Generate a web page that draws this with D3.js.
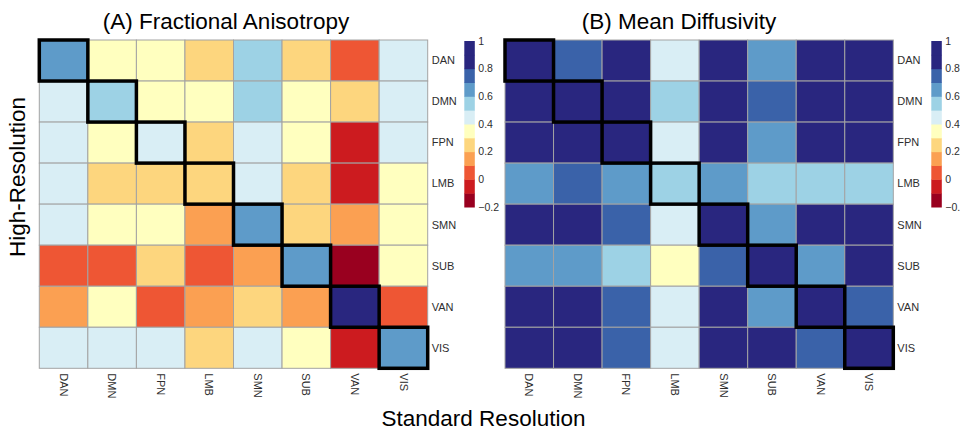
<!DOCTYPE html>
<html lang="en">
<head>
  <meta charset="UTF-8">
  <title>FA / MD network reliability</title>
  <style>
    body {
      margin: 0;
      background: #fff;
      font-family: "Liberation Sans", Arial, sans-serif;
    }
    .cell {
      stroke: #a3a3a3;
      stroke-width: 1px;
    }
    .diag {
      fill: none;
      stroke: #000;
      stroke-width: 3.5px;
    }
    .lab {
      font-size: 11px;
      fill: #2e2e2e;
    }
    .cb-lab {
      font-size: 10.5px;
      fill: #2e2e2e;
    }
    .title {
      font-size: 22.5px;
      fill: #000;
    }
  </style>
</head>
<body>
  <svg></svg>

  <script src="https://d3js.org/d3.v7.min.js"></script>
  <script>
    const width = 960, height = 431;

    const networks = ["DAN", "DMN", "FPN", "LMB", "SMN", "SUB", "VAN", "VIS"];

    // rows = high-resolution, columns = standard resolution
    const faValues = [
      [0.66, 0.36, 0.34, 0.27, 0.57, 0.26, 0.06, 0.44],
      [0.43, 0.58, 0.35, 0.33, 0.56, 0.37, 0.24, 0.45],
      [0.42, 0.34, 0.46, 0.25, 0.43, 0.36, -0.05, 0.44],
      [0.42, 0.27, 0.26, 0.28, 0.44, 0.25, -0.04, 0.33],
      [0.45, 0.36, 0.33, 0.15, 0.67, 0.24, 0.14, 0.35],
      [0.05, 0.04, 0.23, 0.06, 0.16, 0.64, -0.14, 0.36],
      [0.17, 0.34, 0.03, 0.13, 0.26, 0.16, 0.92, 0.07],
      [0.44, 0.42, 0.43, 0.24, 0.45, 0.37, -0.06, 0.63]
    ];

    const mdValues = [
      [0.94, 0.76, 0.88, 0.46, 0.91, 0.64, 0.93, 0.90],
      [0.92, 0.95, 0.90, 0.56, 0.89, 0.74, 0.87, 0.91],
      [0.91, 0.89, 0.96, 0.47, 0.90, 0.65, 0.92, 0.88],
      [0.63, 0.73, 0.66, 0.57, 0.64, 0.54, 0.55, 0.56],
      [0.90, 0.88, 0.74, 0.45, 0.97, 0.66, 0.89, 0.91],
      [0.65, 0.64, 0.55, 0.36, 0.76, 0.93, 0.63, 0.86],
      [0.89, 0.91, 0.75, 0.46, 0.90, 0.65, 0.95, 0.77],
      [0.90, 0.87, 0.73, 0.44, 0.92, 0.88, 0.76, 0.94]
    ];

    const colorTicks = [-0.2, 0, 0.2, 0.4, 0.6, 0.8, 1];
    const binBreaks = [-0.1, 0, 0.1, 0.2, 0.3, 0.4, 0.5, 0.6, 0.7, 0.8];
    const binColors = ["#99001f", "#cc1b1f", "#ee5634", "#fba052", "#fdd67e", "#ffffbf",
                       "#d9eef5", "#9dd2e5", "#5e9bc9", "#3a62a9", "#29267f"];

    const color = d3.scaleThreshold().domain(binBreaks).range(binColors);

    const svg = d3.select("svg")
      .attr("width", width)
      .attr("height", height);

    function drawPanel(values, title, x0, x1, titleX, cbX) {
      const top = 40, bottom = 368.3;
      const x = d3.scaleBand().domain(networks).range([x0, x1]);
      const y = d3.scaleBand().domain(networks).range([top, bottom]);

      const g = svg.append("g");

      const cells = [];
      values.forEach((row, i) => row.forEach((v, j) => {
        cells.push({ row: networks[i], col: networks[j], v: v });
      }));

      g.selectAll("rect.cell")
        .data(cells)
        .join("rect")
        .attr("class", "cell")
        .attr("x", d => x(d.col))
        .attr("y", d => y(d.row))
        .attr("width", x.bandwidth())
        .attr("height", y.bandwidth())
        .attr("fill", d => color(d.v));

      // outline the matching-network cells
      g.selectAll("rect.diag")
        .data(networks)
        .join("rect")
        .attr("class", "diag")
        .attr("x", d => x(d))
        .attr("y", d => y(d))
        .attr("width", x.bandwidth())
        .attr("height", y.bandwidth());

      // row labels on the right
      g.selectAll("text.row")
        .data(networks)
        .join("text")
        .attr("class", "lab")
        .attr("x", x1 + 4)
        .attr("y", d => y(d) + y.bandwidth() / 2)
        .attr("dy", "0.35em")
        .text(d => d);

      // column labels, rotated
      g.selectAll("text.col")
        .data(networks)
        .join("text")
        .attr("class", "lab")
        .attr("transform", d => `translate(${x(d) + x.bandwidth() / 2},${bottom + 5}) rotate(90)`)
        .attr("dy", "0.35em")
        .text(d => d);

      svg.append("text")
        .attr("class", "title")
        .attr("x", titleX)
        .attr("y", 29)
        .attr("text-anchor", "middle")
        .text(title);

      // colour bar
      const cb = d3.scaleLinear().domain([-0.2, 1]).range([207, 41]);
      const bins = d3.range(12).map(i => -0.2 + i * 0.1);
      g.selectAll("rect.cb")
        .data(bins)
        .join("rect")
        .attr("x", cbX)
        .attr("y", d => cb(d + 0.1))
        .attr("width", 10.5)
        .attr("height", d => cb(d) - cb(d + 0.1) + 0.5)
        .attr("fill", d => color(d + 0.05));

      g.selectAll("text.cbl")
        .data(colorTicks)
        .join("text")
        .attr("class", "cb-lab")
        .attr("x", cbX + 14)
        .attr("y", d => cb(d))
        .attr("dy", "0.35em")
        .text(d => d3.format("")(d));
    }

    drawPanel(faValues, "(A) Fractional Anisotropy", 39.3, 427.7, 226, 464.3);
    drawPanel(mdValues, "(B) Mean Diffusivity", 505, 893.3, 679, 931.3);

    svg.append("text")
      .attr("class", "title")
      .attr("x", 483.5)
      .attr("y", 426)
      .attr("text-anchor", "middle")
      .text("Standard Resolution");

    svg.append("text")
      .attr("class", "title")
      .attr("transform", "translate(25,177) rotate(-90)")
      .attr("text-anchor", "middle")
      .text("High-Resolution");
  </script>
</body>
</html>
